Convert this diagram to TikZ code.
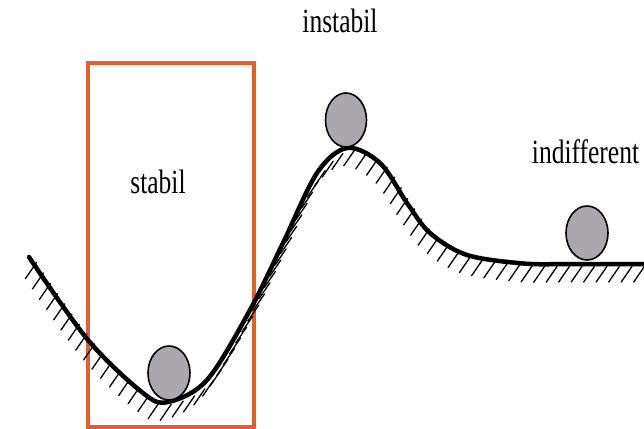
\documentclass[tikz,border=0pt]{standalone}
\usepackage{fontspec}
\setmainfont{Liberation Serif}
\usetikzlibrary{decorations.markings}
\definecolor{boxorange}{RGB}{224,98,42}
\definecolor{ballgray}{RGB}{170,168,173}
\tikzset{
  ground/.style={line width=4.5pt, line join=round, line cap=round,
    postaction={decorate, decoration={markings,
      mark=between positions 0.005 and 1 step 12.5pt with {
        \pgftransformresetnontranslations
        \draw[line width=1.3pt] (5,2) -- ++(-11,16);
      }}}},
  ball/.style={draw=black, line width=1.6pt, fill=ballgray},
  lbl/.style={font=\fontsize{25.5}{30}\selectfont, anchor=base, inner sep=0pt},
  framebox/.style={draw=boxorange, line width=4pt}
}
\begin{document}
\begin{tikzpicture}[x=1pt, y=-1pt]
\useasboundingbox (0,0) rectangle (644,428);
\node[framebox, minimum width=166pt, minimum height=364pt, inner sep=0pt, anchor=north west] (frame) at (86,61) {};
\draw[ground] plot[smooth, tension=0.55] coordinates {(29,257) (88,340) (143,393) (168,402) (207,380) (250,310) (283,243) (317,173) (347,148) (380,163) (407,203) (430,233) (467,255) (523,263.5) (560,264)} -- (644,264);
\draw[ball] (169,373) ellipse [x radius=21, y radius=27];
\draw[ball] (346,120) ellipse [x radius=20.5, y radius=27];
\draw[ball] (587,233) ellipse [x radius=21, y radius=27];
\node[lbl] (instabil) at (340,33) {\scalebox{1}[1.33]{instabil}};
\node[lbl] (stabil) at (158,193) {\scalebox{1}[1.33]{stabil}};
\node[lbl] (indiff) at (585.5,163) {\scalebox{1}[1.33]{indifferent}};
\end{tikzpicture}
\end{document}
